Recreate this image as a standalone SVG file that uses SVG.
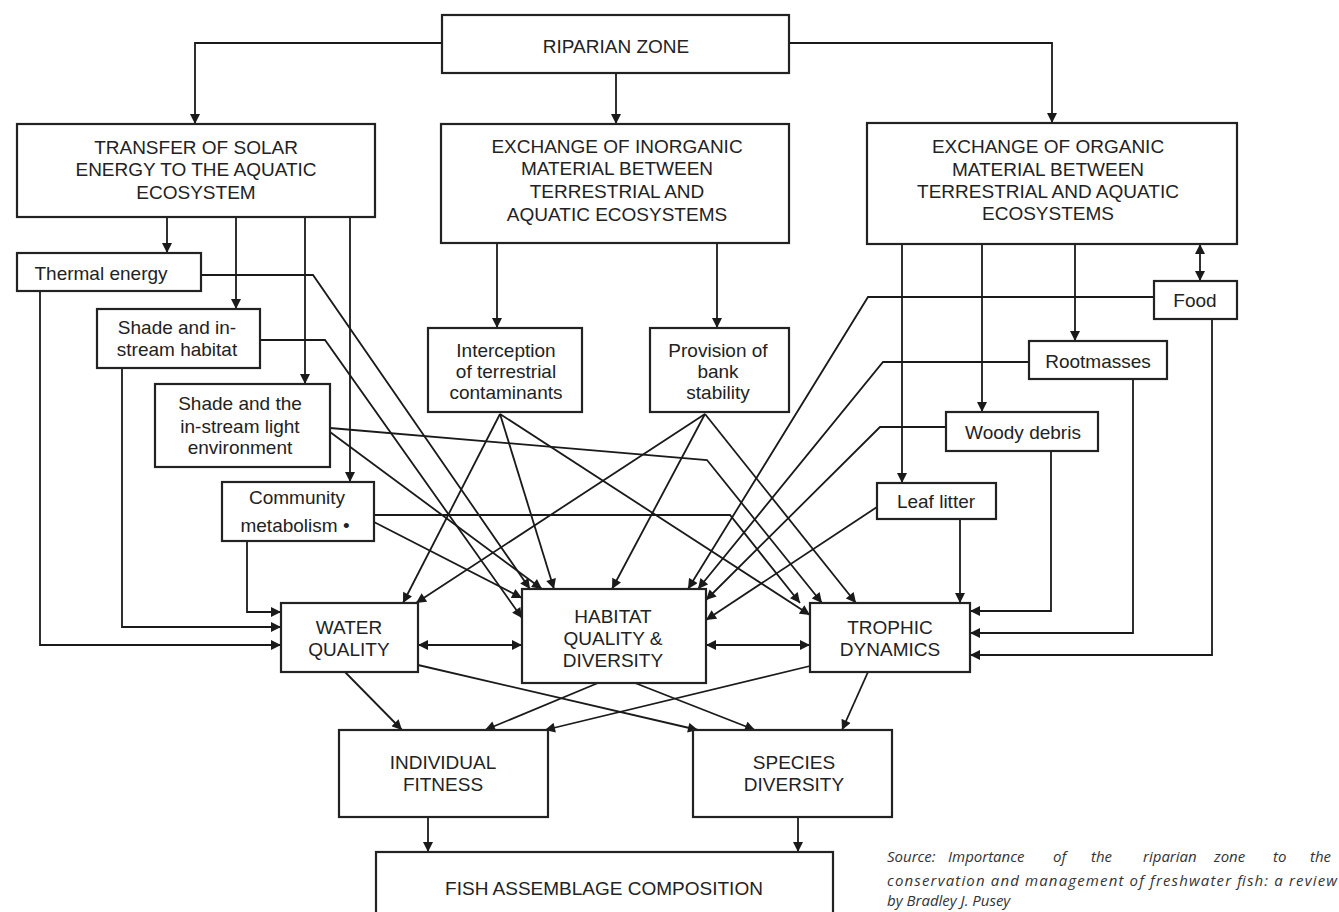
<svg xmlns="http://www.w3.org/2000/svg" width="1339" height="912" viewBox="0 0 1339 912">
<defs>
<marker id="ah" viewBox="0 0 10 10" refX="10" refY="5" markerWidth="11" markerHeight="10" orient="auto-start-reverse" markerUnits="userSpaceOnUse"><path d="M0,0 L10,5 L0,10 z" fill="#1a1a1a"/></marker>
</defs>
<style>
.box{fill:#fff;stroke:#222;stroke-width:2.2}
.t{font-family:"Liberation Sans",Arial,sans-serif;font-size:19px;fill:#222;text-anchor:middle}
.c{fill:none;stroke:#1a1a1a;stroke-width:1.8;marker-end:url(#ah)}
.d{marker-start:url(#ah)}
.src{font-family:"Open Sans","DejaVu Sans",sans-serif;font-style:italic;font-size:15px;fill:#333}
</style>
<rect width="1339" height="912" fill="#fff"/>
<g id="connectors">
<path class="c" d="M442,43 H195 V124"/>
<path class="c" d="M616,73 V124"/>
<path class="c" d="M789,43 H1052 V123"/>
<path class="c" d="M167,217 V253"/>
<path class="c" d="M236,217 V309"/>
<path class="c" d="M305,217 V384"/>
<path class="c" d="M350,217 V482"/>
<path class="c" d="M497,243 V328"/>
<path class="c" d="M717,243 V328"/>
<path class="c" d="M902,244 V483"/>
<path class="c" d="M982,244 V412"/>
<path class="c" d="M1075,244 V341"/>
<path class="c d" d="M1200,244 V281"/>
<path class="c" d="M40,291 V645 H281"/>
<path class="c" d="M122,368 V627 H281"/>
<path class="c" d="M247,541 V612 H281"/>
<path class="c" d="M960,519 V603"/>
<path class="c" d="M1051,451 V611 H970"/>
<path class="c" d="M1133,379 V633 H970"/>
<path class="c" d="M1212,319 V655 H970"/>
<path class="c d" d="M418,645 H522"/>
<path class="c d" d="M706,645 H810"/>
<path class="c" d="M345,672 L402,730"/>
<path class="c" d="M418,665 L698,730"/>
<path class="c" d="M598,683 L485,730"/>
<path class="c" d="M635,683 L755,730"/>
<path class="c" d="M810,666 L545,730"/>
<path class="c" d="M868,672 L842,730"/>
<path class="c" d="M428,817 V852"/>
<path class="c" d="M798,817 V852"/>
<path class="c" d="M201,275 H313 L530,589"/>
<path class="c" d="M260,340 H325 L522,618"/>
<path class="c" d="M330,428 L707,460 L822,603"/>
<path class="c" d="M330,432 L542,589"/>
<path class="c" d="M374,515 H730 L800,603"/>
<path class="c" d="M374,522 L522,598"/>
<path class="c" d="M500,414 L403,603"/>
<path class="c" d="M500,414 L554,589"/>
<path class="c" d="M500,414 L810,615"/>
<path class="c" d="M705,414 L416,603"/>
<path class="c" d="M705,414 L612,589"/>
<path class="c" d="M705,414 L856,603"/>
<path class="c" d="M1154,297 H868 L688,589"/>
<path class="c" d="M1029,362 H883 L698,589"/>
<path class="c" d="M946,427 H880 L706,600"/>
<path class="c" d="M877,507 L706,620"/>
</g>
<g id="riparian"><rect class="box" x="442" y="15" width="347" height="58"/><text class="t" x="616" y="53">RIPARIAN ZONE</text></g>
<g id="solar"><rect class="box" x="17" y="124" width="358" height="93"/><text class="t" x="196" y="154">TRANSFER OF SOLAR</text><text class="t" x="196" y="176">ENERGY TO THE AQUATIC</text><text class="t" x="196" y="199">ECOSYSTEM</text></g>
<g id="inorganic"><rect class="box" x="441" y="124" width="348" height="119"/><text class="t" x="617" y="153">EXCHANGE OF INORGANIC</text><text class="t" x="617" y="175">MATERIAL BETWEEN</text><text class="t" x="617" y="198">TERRESTRIAL AND</text><text class="t" x="617" y="221">AQUATIC ECOSYSTEMS</text></g>
<g id="organic"><rect class="box" x="867" y="123" width="370" height="121"/><text class="t" x="1048" y="153">EXCHANGE OF ORGANIC</text><text class="t" x="1048" y="176">MATERIAL BETWEEN</text><text class="t" x="1048" y="198">TERRESTRIAL AND AQUATIC</text><text class="t" x="1048" y="220">ECOSYSTEMS</text></g>
<g id="thermal"><rect class="box" x="17" y="253" width="184" height="38"/><text class="t" x="101" y="280">Thermal energy</text></g>
<g id="shade-habitat"><rect class="box" x="97" y="309" width="163" height="59"/><text class="t" x="177" y="334">Shade and in-</text><text class="t" x="177" y="356">stream habitat</text></g>
<g id="shade-light"><rect class="box" x="155" y="384" width="175" height="83"/><text class="t" x="240" y="410">Shade and the</text><text class="t" x="240" y="433">in-stream light</text><text class="t" x="240" y="454">environment</text></g>
<g id="community"><rect class="box" x="222" y="482" width="152" height="59"/><text class="t" x="297" y="504">Community</text><text class="t" x="295" y="532">metabolism •</text></g>
<g id="interception"><rect class="box" x="428" y="328" width="154" height="84"/><text class="t" x="506" y="357">Interception</text><text class="t" x="506" y="378">of terrestrial</text><text class="t" x="506" y="399">contaminants</text></g>
<g id="provision"><rect class="box" x="650" y="328" width="139" height="84"/><text class="t" x="718" y="357">Provision of</text><text class="t" x="718" y="378">bank</text><text class="t" x="718" y="399">stability</text></g>
<g id="food"><rect class="box" x="1154" y="281" width="83" height="38"/><text class="t" x="1195" y="307">Food</text></g>
<g id="rootmasses"><rect class="box" x="1029" y="341" width="138" height="38"/><text class="t" x="1098" y="368">Rootmasses</text></g>
<g id="woody"><rect class="box" x="946" y="412" width="152" height="39"/><text class="t" x="1023" y="439">Woody debris</text></g>
<g id="leaf"><rect class="box" x="877" y="483" width="119" height="36"/><text class="t" x="936" y="508">Leaf litter</text></g>
<g id="water"><rect class="box" x="281" y="603" width="137" height="69"/><text class="t" x="349" y="634">WATER</text><text class="t" x="349" y="656">QUALITY</text></g>
<g id="habitat"><rect class="box" x="522" y="589" width="184" height="94"/><text class="t" x="613" y="623">HABITAT</text><text class="t" x="613" y="645">QUALITY &amp;</text><text class="t" x="613" y="667">DIVERSITY</text></g>
<g id="trophic"><rect class="box" x="810" y="603" width="160" height="69"/><text class="t" x="890" y="634">TROPHIC</text><text class="t" x="890" y="656">DYNAMICS</text></g>
<g id="individual"><rect class="box" x="339" y="730" width="209" height="87"/><text class="t" x="443" y="769">INDIVIDUAL</text><text class="t" x="443" y="791">FITNESS</text></g>
<g id="species"><rect class="box" x="693" y="730" width="199" height="87"/><text class="t" x="794" y="769">SPECIES</text><text class="t" x="794" y="791">DIVERSITY</text></g>
<g id="fish"><rect class="box" x="376" y="852" width="457" height="70"/><text class="t" x="604" y="895">FISH ASSEMBLAGE COMPOSITION</text></g>
<g id="source">
<text class="src" y="862"><tspan x="887">Source:</tspan><tspan x="948">Importance</tspan><tspan x="1053">of</tspan><tspan x="1091">the</tspan><tspan x="1143">riparian</tspan><tspan x="1214">zone</tspan><tspan x="1273">to</tspan><tspan x="1310">the</tspan></text>
<text class="src" x="887" y="886" textLength="450" lengthAdjust="spacing">conservation and management of freshwater fish: a review</text>
<text class="src" x="887" y="906">by Bradley J. Pusey</text>
</g>
</svg>
